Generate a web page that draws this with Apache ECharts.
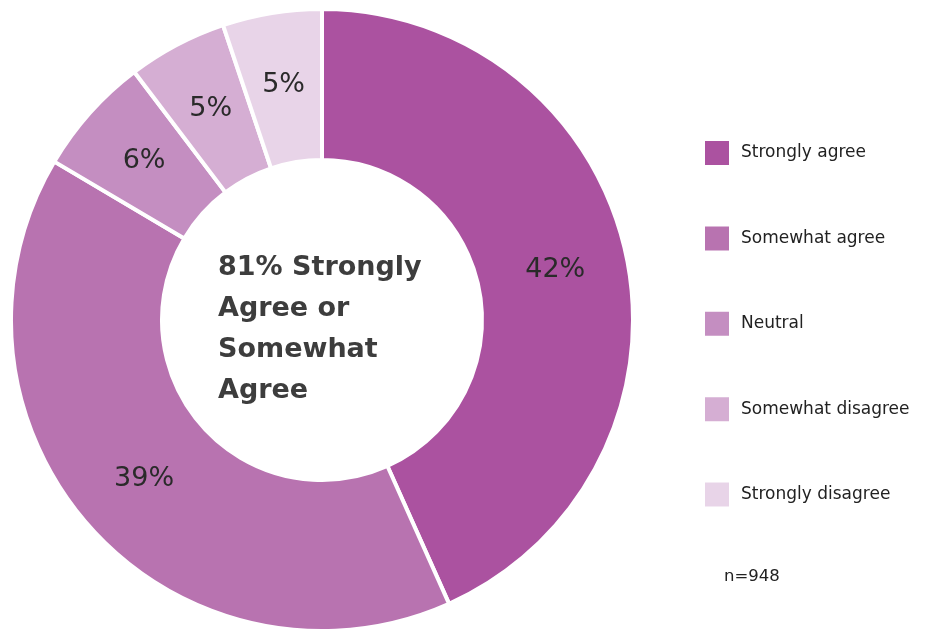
<!DOCTYPE html>
<html><head><meta charset="utf-8">
<script src="https://cdn.jsdelivr.net/npm/echarts@6/dist/echarts.min.js"></script>
<style>html,body{margin:0;padding:0;background:#fff}#c{width:928px;height:630px}</style>
</head><body><div id="c"></div>
<script>
const categories = ['Strongly agree','Somewhat agree','Neutral','Somewhat disagree','Strongly disagree'];
const values = [42, 39, 6, 5, 5];
const colors = ['#AB52A0','#B873B0','#C48EC1','#D5AED3','#E8D4E8'];
const centerLines = ['81% Strongly','Agree or','Somewhat','Agree'];
const sampleNote = 'n=948';

const chart = echarts.init(document.getElementById('c'));
chart.setOption({
  backgroundColor:'#fff',
  animation:false,
  color: colors,
  legend:{
    orient:'vertical', left:698, top:134,
    itemWidth:26, itemHeight:26, itemGap:57.4,
    icon:'rect',
    data: categories,
    textStyle:{fontFamily:'DejaVu Sans', fontSize:17, color:'#222', padding:[0,0,0,6]}
  },
  graphic:[
    {type:'text', left:218, top:247, style:{text:centerLines.join('\n'), fontFamily:'DejaVu Sans', fontWeight:'bold', fontSize:27, lineHeight:41, fill:'#3d3d3d', textAlign:'left'}},
    {type:'text', left:724, top:568, style:{text:sampleNote, fontFamily:'DejaVu Sans', fontSize:16.5, fill:'#222'}}
  ],
  series:[{
    type:'pie',
    center:[322,320],
    radius:[160,311],
    startAngle:90,
    clockwise:true,
    avoidLabelOverlap:false,
    itemStyle:{borderColor:'#fff', borderWidth:4},
    label:{show:true, position:'inside', formatter:'{c}%', fontFamily:'DejaVu Sans', fontSize:27, color:'#2a2a2a'},
    labelLine:{show:false},
    emphasis:{disabled:true},
    data: categories.map((n,i)=>({name:n, value:values[i]}))
  }]
});
</script></body></html>
